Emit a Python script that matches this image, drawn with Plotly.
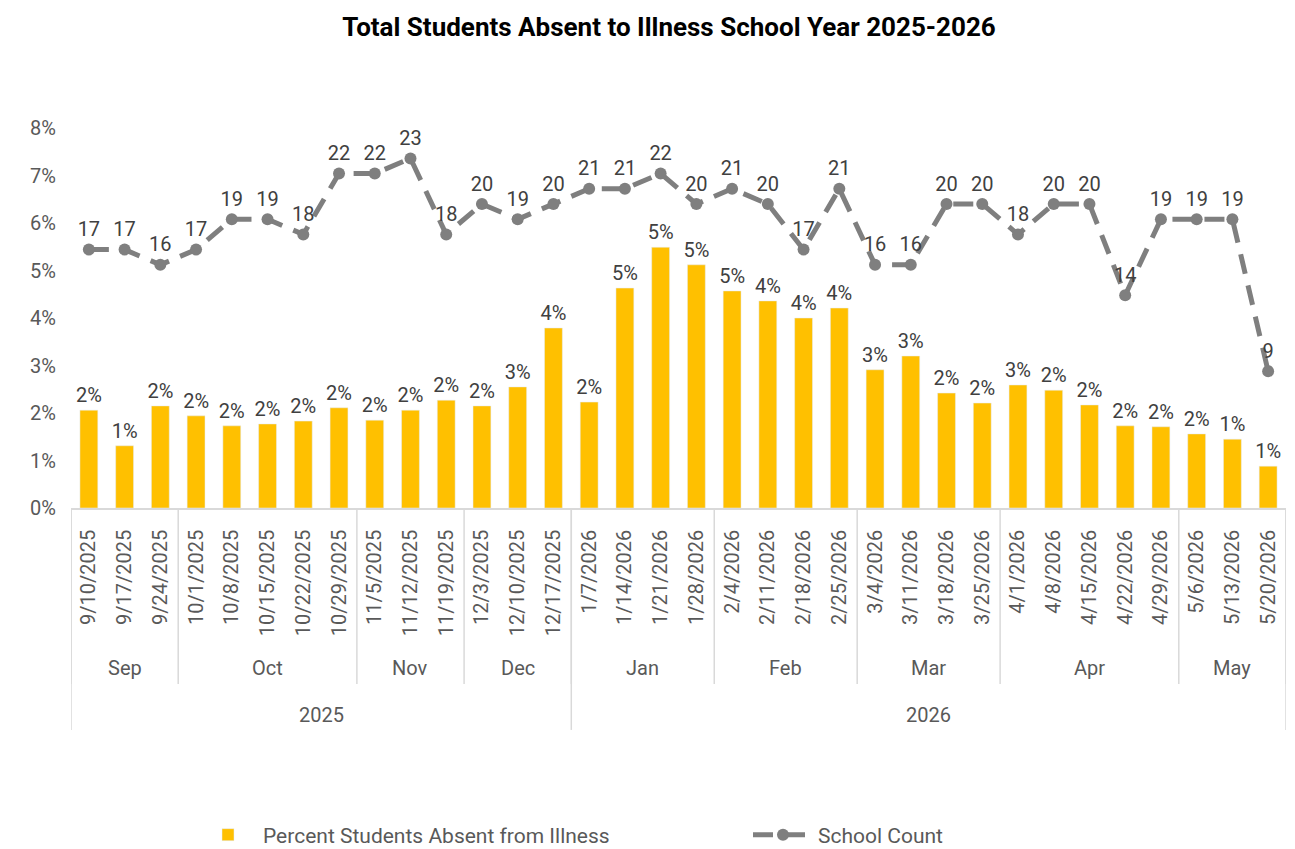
import plotly.graph_objects as go

dates = ["9/10/2025", "9/17/2025", "9/24/2025", "10/1/2025", "10/8/2025", "10/15/2025",
         "10/22/2025", "10/29/2025", "11/5/2025", "11/12/2025", "11/19/2025", "12/3/2025",
         "12/10/2025", "12/17/2025", "1/7/2026", "1/14/2026", "1/21/2026", "1/28/2026",
         "2/4/2026", "2/11/2026", "2/18/2026", "2/25/2026", "3/4/2026", "3/11/2026",
         "3/18/2026", "3/25/2026", "4/1/2026", "4/8/2026", "4/15/2026", "4/22/2026",
         "4/29/2026", "5/6/2026", "5/13/2026", "5/20/2026"]
pct_absent = [0.0206, 0.0131, 0.0215, 0.0194, 0.0173, 0.0177, 0.0183, 0.0211, 0.0185, 0.0206,
              0.0227, 0.0215, 0.0255, 0.0379, 0.0223, 0.0463, 0.0549, 0.0512, 0.0457, 0.0436,
              0.0400, 0.0421, 0.0291, 0.0320, 0.0242, 0.0221, 0.0259, 0.0248, 0.0217, 0.0173,
              0.0171, 0.0156, 0.0145, 0.0088]
school_count = [17, 17, 16, 17, 19, 19, 18, 22, 22, 23, 18, 20, 19, 20, 21, 21, 22, 20,
                21, 20, 17, 21, 16, 16, 20, 20, 18, 20, 20, 14, 19, 19, 19, 9]
months = ["Sep", "Oct", "Nov", "Dec", "Jan", "Feb", "Mar", "Apr", "May"]
month_weeks = [3, 5, 3, 3, 4, 4, 4, 5, 3]
years = ["2025", "2026"]
year_weeks = [14, 20]

x = list(range(len(dates)))

W, H = 1287, 841  # page body has an 8px margin

fig = go.Figure()
fig.add_trace(go.Bar(
    x=x, y=pct_absent, name="Percent Students Absent from Illness",
    marker=dict(color="#FFC000"),
    texttemplate="%{y:.0%}", textposition="outside", constraintext="none",
    textfont=dict(size=20, color="#404040", family="Roboto"),
    cliponaxis=False,
))
fig.add_trace(go.Scatter(
    x=x, y=school_count, name="School Count", yaxis="y2",
    mode="lines+markers+text",
    line=dict(color="#7F7F7F", width=5, dash="20px,12px"),
    marker=dict(color="#7F7F7F", size=12),
    text=[str(v) for v in school_count], textposition="top center",
    textfont=dict(size=20, color="#404040", family="Roboto"),
    cliponaxis=False,
))

grid = "#D9D9D9"
lab_font = dict(size=20, color="#595959", family="Roboto")
shapes = []
annotations = []
start = 0
for m, n in zip(months, month_weeks):
    annotations.append(dict(x=start + (n - 1) / 2, y=-0.421, xref="x", yref="paper",
                            text=m, showarrow=False, yanchor="middle", font=lab_font))
    shapes.append(dict(type="line", xref="x", yref="paper", x0=start - 0.5, x1=start - 0.5,
                       y0=0, y1=-0.463, line=dict(color=grid, width=1.5)))
    start += n
shapes.append(dict(type="line", xref="x", yref="paper", x0=start - 0.5, x1=start - 0.5,
                   y0=0, y1=-0.463, line=dict(color=grid, width=1.5)))
start = 0
for yv, n in zip(years, year_weeks):
    annotations.append(dict(x=start + (n - 1) / 2, y=-0.545, xref="x", yref="paper",
                            text=yv, showarrow=False, yanchor="middle", font=lab_font))
    shapes.append(dict(type="line", xref="x", yref="paper", x0=start - 0.5, x1=start - 0.5,
                       y0=0, y1=-0.584, line=dict(color=grid, width=1.5)))
    start += n
shapes.append(dict(type="line", xref="x", yref="paper", x0=start - 0.5, x1=start - 0.5,
                   y0=0, y1=-0.584, line=dict(color=grid, width=1.5)))

fig.update_layout(
    width=W, height=H,
    margin=dict(l=63, r=9, t=120, b=341),
    paper_bgcolor="white", plot_bgcolor="white",
    font=dict(family="Roboto", color="#595959"),
    title=dict(text="<b>Total Students Absent to Illness School Year 2025-2026</b>",
               x=661 / W, xanchor="center", xref="container",
               y=1 - 19 / H, yanchor="middle", yref="container",
               font=dict(size=26, color="#000000", family="Roboto")),
    bargap=0.5,
    xaxis=dict(range=[-0.5, len(dates) - 0.5], tickmode="array", tickvals=x, ticktext=dates,
               tickangle=-90, tickfont=dict(size=20, color="#595959"),
               showgrid=False, showline=True, linecolor=grid, linewidth=1.5,
               ticks="", zeroline=False, ticklabelstandoff=12, automargin=False),
    yaxis=dict(range=[0, 0.08], dtick=0.01, tickformat=".0%", showgrid=False,
               zeroline=False, showline=False, tickfont=dict(size=20, color="#595959"),
               ticklabelstandoff=14, automargin=False),
    yaxis2=dict(range=[0, 25], overlaying="y", side="right", visible=False),
    legend=dict(orientation="h", xref="container", x=185 / W, xanchor="left",
                yref="container", y=14 / H, yanchor="middle",
                font=dict(size=21, color="#595959"), itemwidth=60, entrywidth=480,
                entrywidthmode="pixels"),
    shapes=shapes, annotations=annotations,
)

fig.write_html("out.html")
